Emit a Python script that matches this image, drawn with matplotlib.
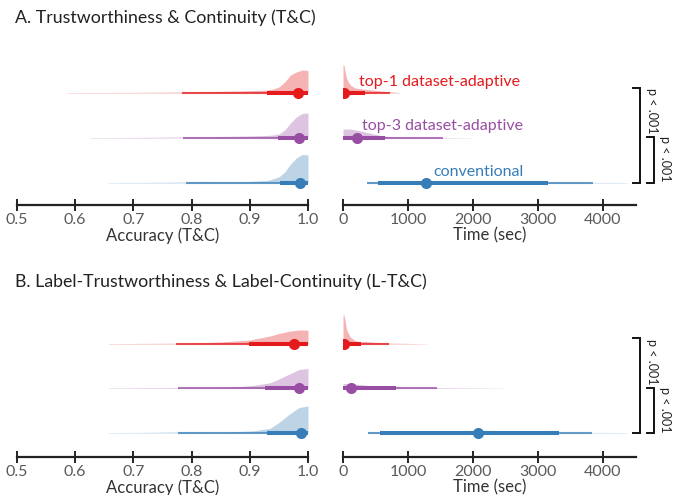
import numpy as np
import matplotlib
matplotlib.use("Agg")
import matplotlib.pyplot as plt

plt.rcParams["font.family"] = ["Lato", "DejaVu Sans"]

colors = {"top1": "#e41a1c", "top3": "#984ea3", "conv": "#377eb8"}
groups = ["top1", "top3", "conv"]
rows = {"top1": 3, "top3": 2, "conv": 1}
labels = {"top1": "top-1 dataset-adaptive", "top3": "top-3 dataset-adaptive",
          "conv": "conventional"}

# --- A: accuracy densities (x, height) ---
a_acc_x = {
    "top1": [0.586, 0.65, 0.72, 0.78, 0.83, 0.88, 0.91, 0.93, 0.94, 0.95, 0.96, 0.97, 0.98, 0.99, 1.0],
    "top3": [0.625, 0.70, 0.786, 0.85, 0.90, 0.93, 0.94, 0.95, 0.96, 0.97, 0.98, 0.99, 1.0],
    "conv": [0.657, 0.72, 0.79, 0.82, 0.86, 0.90, 0.93, 0.95, 0.96, 0.97, 0.98, 0.99, 1.0],
}
a_acc_h = {
    "top1": [0.4, 0.5, 0.7, 1.0, 1.5, 2.0, 2.5, 3.0, 4.0, 6.0, 11.0, 18.0, 21.0, 23.0, 22.5],
    "top3": [0.4, 0.6, 1.0, 1.5, 2.0, 2.5, 3.0, 4.0, 8.0, 15.0, 21.0, 24.5, 25.0],
    "conv": [0.4, 0.6, 1.0, 1.6, 1.2, 1.6, 2.5, 6.0, 11.0, 19.0, 25.0, 28.5, 28.0],
}
a_acc_q95 = {"top1": (0.783, 1.0), "top3": (0.786, 1.0), "conv": (0.790, 1.0)}
a_acc_q66 = {"top1": (0.929, 1.0), "top3": (0.949, 1.0), "conv": (0.952, 1.0)}
a_acc_med = {"top1": 0.983, "top3": 0.985, "conv": 0.987}

# --- A: time densities ---
a_time_x = {
    "top1": [0, 15, 30, 50, 80, 120, 190, 300, 450, 600, 750, 880],
    "top3": [0, 100, 230, 385, 540, 690, 900, 1200, 1600, 2000],
    "conv": [370, 800, 1300, 2000, 3000, 3850, 4370],
}
a_time_h = {
    "top1": [28, 28, 22, 16, 11, 7.5, 5, 4, 3, 2, 1.2, 0.3],
    "top3": [9, 9, 7.7, 5.3, 3, 1.5, 1, 0.7, 0.5, 0.2],
    "conv": [0.8, 1.0, 1.0, 1.0, 0.8, 0.6, 0.4],
}
a_time_q95 = {"top1": (0, 720), "top3": (0, 1540), "conv": (370, 3850)}
a_time_q66 = {"top1": (0, 340), "top3": (0, 650), "conv": (540, 3150)}
a_time_med = {"top1": 10, "top3": 215, "conv": 1280}

# --- B: accuracy densities ---
b_acc_x = {
    "top1": [0.657, 0.72, 0.80, 0.85, 0.90, 0.935, 0.95, 0.97, 0.985, 1.0],
    "top3": [0.657, 0.78, 0.85, 0.88, 0.905, 0.935, 0.95, 0.97, 0.985, 1.0],
    "conv": [0.657, 0.72, 0.79, 0.85, 0.905, 0.935, 0.95, 0.97, 0.985, 1.0],
}
b_acc_h = {
    "top1": [0.4, 0.6, 0.9, 2.0, 4.0, 8.0, 10.5, 13.0, 14.0, 13.8],
    "top3": [0.4, 0.8, 1.2, 1.8, 3.0, 5.7, 9.5, 15.0, 19.0, 20.0],
    "conv": [0.4, 0.6, 1.2, 1.0, 2.0, 4.7, 10.5, 19.7, 25.5, 27.0],
}
b_acc_q95 = {"top1": (0.774, 1.0), "top3": (0.777, 1.0), "conv": (0.777, 1.0)}
b_acc_q66 = {"top1": (0.899, 1.0), "top3": (0.926, 1.0), "conv": (0.929, 1.0)}
b_acc_med = {"top1": 0.976, "top3": 0.984, "conv": 0.988}

# --- B: time densities ---
b_time_x = {
    "top1": [0, 15, 30, 56, 108, 185, 260, 340, 420, 490, 690, 1000, 1290],
    "top3": [0, 120, 385, 650, 1000, 1450, 2000, 2450],
    "conv": [390, 800, 1300, 2000, 3000, 3830, 4370],
}
b_time_h = {
    "top1": [29, 29, 24, 14, 7.3, 3.3, 2.3, 2.6, 2, 1.7, 1, 0.6, 0.2],
    "top3": [5, 5, 3, 1.7, 1, 0.7, 0.4, 0.2],
    "conv": [0.8, 1.0, 1.0, 1.0, 0.8, 0.6, 0.4],
}
b_time_q95 = {"top1": (0, 700), "top3": (0, 1450), "conv": (390, 3830)}
b_time_q66 = {"top1": (0, 280), "top3": (0, 815), "conv": (570, 3330)}
b_time_med = {"top1": 10, "top3": 120, "conv": 2080}

W, H = 674, 495
fig = plt.figure(figsize=(W / 100, H / 100), dpi=100)


def make_ax(left_px, width_px, bottom_px, height_px, xlim, ylim, xticks, xlabel):
    ax = fig.add_axes([left_px / W, 1 - bottom_px / H, width_px / W, height_px / H])
    ax.set_xlim(*xlim)
    ax.set_ylim(*ylim)
    for s in ["left", "top", "right"]:
        ax.spines[s].set_visible(False)
    ax.spines["bottom"].set_linewidth(1.6)
    ax.spines["bottom"].set_color("#222222")
    ax.set_yticks([])
    ax.set_xticks(xticks)
    ax.tick_params(axis="x", direction="inout", length=9, width=1.4, color="#222222",
                   labelsize=11.5, labelcolor="#5a5a5a", pad=1.5)
    ax.set_xlabel(xlabel, fontsize=12, color="#333333", labelpad=0)
    return ax


def halfeye(ax, xs, hs, q95, q66, med, scale):
    for g in groups:
        y0 = rows[g]
        c = colors[g]
        x = np.array(xs[g])
        h = np.array(hs[g]) / scale
        ax.fill_between(x, y0, y0 + h, color=c, alpha=0.33, lw=0)
        ax.plot(q95[g], [y0, y0], color=c, lw=1.5, alpha=0.75, solid_capstyle="butt")
        ax.plot(q66[g], [y0, y0], color=c, lw=2.9, solid_capstyle="butt")
        ax.plot([med[g]], [y0], "o", color=c, ms=8, mec="none")


def brackets(ax, yb_top):
    kw = dict(color="#111111", lw=1.4, clip_on=False, solid_joinstyle="miter")
    ax.plot([4462, 4569, 4569, 4462], [yb_top, yb_top, 1, 1], **kw)
    ax.plot([4677, 4785, 4785, 4677], [2.02, 2.02, 1, 1], **kw)
    ax.text(4754, 2.6, "p < .001", rotation=-90, ha="center", va="center",
            fontsize=9, color="#222222", clip_on=False)
    ax.text(4954, 1.53, "p < .001", rotation=-90, ha="center", va="center",
            fontsize=9, color="#222222", clip_on=False)


acc_ticks = [0.5, 0.6, 0.7, 0.8, 0.9, 1.0]
time_ticks = [0, 1000, 2000, 3000, 4000]

# Panel A
ax1 = make_ax(17, 291, 205, 157, (0.5, 1.0), (0.511, 4.0), acc_ticks, "Accuracy (T&C)")
ax1.set_xticklabels(["0.5", "0.6", "0.7", "0.8", "0.9", "1.0"])
halfeye(ax1, a_acc_x, a_acc_h, a_acc_q95, a_acc_q66, a_acc_med, 45)
ax2 = make_ax(343, 292.5, 205, 157, (0, 4500), (0.511, 4.0), time_ticks, "Time (sec)")
halfeye(ax2, a_time_x, a_time_h, a_time_q95, a_time_q66, a_time_med, 45)
ax2.text(246, 3.24, labels["top1"], color=colors["top1"], fontsize=11.5, va="center")
ax2.text(290, 2.27, labels["top3"], color=colors["top3"], fontsize=11.5, va="center")
ax2.text(1385, 1.24, labels["conv"], color=colors["conv"], fontsize=11.5, va="center")
brackets(ax2, 3.11)

# Panel B
ax3 = make_ax(17, 291, 457, 157.5, (0.5, 1.0), (0.46, 4.0), acc_ticks, "Accuracy (T&C)")
ax3.set_xticklabels(["0.5", "0.6", "0.7", "0.8", "0.9", "1.0"])
halfeye(ax3, b_acc_x, b_acc_h, b_acc_q95, b_acc_q66, b_acc_med, 44.5)
ax4 = make_ax(343, 292.5, 457, 157.5, (0, 4500), (0.46, 4.0), time_ticks, "Time (sec)")
halfeye(ax4, b_time_x, b_time_h, b_time_q95, b_time_q66, b_time_med, 44.5)
brackets(ax4, 3.13)

fig.text(15 / W, 1 - 18 / H, "A. Trustworthiness & Continuity (T&C)", fontsize=12.8,
         va="center", color="#222222")
fig.text(15 / W, 1 - 282 / H, "B. Label-Trustworthiness & Label-Continuity (L-T&C)",
         fontsize=12.8, va="center", color="#222222")

fig.savefig("out.png", dpi=100)
